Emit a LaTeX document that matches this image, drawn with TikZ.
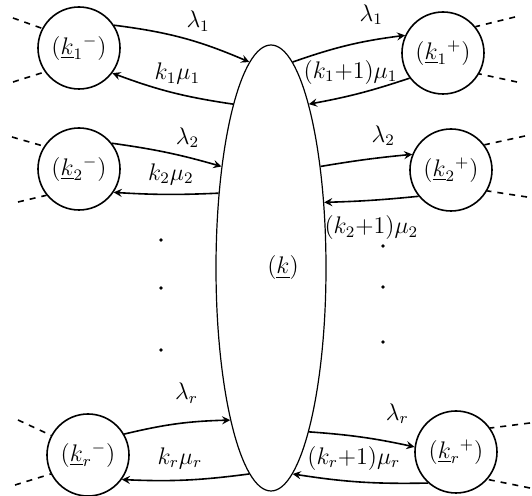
\documentclass[tikz,border=0pt]{standalone}
\usepackage{amsmath}
\usetikzlibrary{shapes.geometric}

\begin{document}
\begin{tikzpicture}[>=stealth, x=0.5pt, y=-0.5pt, font=\large,
    state/.style={draw, thick, circle, minimum size=41pt, inner sep=0pt},
    flow/.style={->, thick},
    stub/.style={dashed, thick}]

    \useasboundingbox (0,0) rectangle (532,496);

    % Центральное состояние
    \node[draw, semithick, ellipse, minimum width=55pt, minimum height=223pt,
          inner sep=0pt] (K) at (271,268) {\hspace{12pt}$(\underline{k})$};

    % Состояния слева
    \node[state] (L1) at (79,48)  {$(\underline{k}_1{}^{-})$};
    \node[state] (L2) at (79,169) {$(\underline{k}_2{}^{-})$};
    \node[state] (L3) at (88,455) {$(\underline{k}_r{}^{-})$};

    % Состояния справа
    \node[state] (R1) at (443,53)  {$(\underline{k}_1{}^{+})$};
    \node[state] (R2) at (451,170) {$(\underline{k}_2{}^{+})$};
    \node[state] (R3) at (456,452) {$(\underline{k}_r{}^{+})$};

    % Переходы слева
    \draw[flow] (L1.33) to[bend left=8] node[pos=.62, above=2pt] {$\lambda_1$} (K.96);
    \draw[flow] (K.103) to[bend left=6] node[pos=.45, above=1pt] {$k_1\mu_1$} (L1.-37);
    \draw[flow] (L2.38) to[bend left=4] node[pos=.7, above=1pt] {$\lambda_2$} (K.116);
    \draw[flow] (K.125) to[bend left=3] node[pos=.45, above=1pt] {$k_2\mu_2$} (L2.-34);
    \draw[flow] (L3.30) to[bend left=6] node[pos=.6, above=6pt] {$\lambda_r$} (K.255);
    \draw[flow] (K.264) to[bend left=5] node[pos=.55, above=2pt] {$k_r\mu_r$} (L3.-36);

    % Переходы справа
    \draw[flow] (K.84) to[bend left=6] node[pos=.72, above=4pt] {$\lambda_1$} (R1.155);
    \draw[flow] (R1.217) to[bend left=4] node[pos=.6, above=2pt] {$(k_1{+}1)\mu_1$} (K.77);
    \draw[flow] (K.64) to[bend left=2] node[pos=.7, above=2pt] {$\lambda_2$} (R2.158);
    \draw[flow] (R2.219) to[bend left=2] node[pos=.5, below=4pt] {$(k_2{+}1)\mu_2$} (K.51);
    \draw[flow] (K.283) to[bend left=4] node[pos=.85, above=6pt] {$\lambda_r$} (R3.173);
    \draw[flow] (R3.228) to[bend left=5] node[pos=.55, above=2pt] {$(k_r{+}1)\mu_r$} (K.276);

    % Многоточия
    \foreach \y in {240,288,350} \fill (161,\y) circle (0.9pt);
    \foreach \y in {246,287,342} \fill (383,\y) circle (0.9pt);

    % Пунктирные выходы
    \coordinate (a1) at (13,18);  \coordinate (a2) at (13,82);
    \coordinate (b1) at (12,137); \coordinate (b2) at (18,202);
    \coordinate (c1) at (18,420); \coordinate (c2) at (15,485);
    \coordinate (d1) at (515,17); \coordinate (d2) at (517,82);
    \coordinate (e1) at (525,136); \coordinate (e2) at (527,197);
    \coordinate (f1) at (530,423); \coordinate (f2) at (530,488);

    \draw[stub] (a1) -- (L1.152);  \draw[stub] (a2) -- (L1.215);
    \draw[stub] (b1) -- (L2.147);  \draw[stub] (b2) -- (L2.219);
    \draw[stub] (c1) -- (L3.152);  \draw[stub] (c2) -- (L3.207);
    \draw[stub] (d1) -- (R1.39);   \draw[stub] (d2) -- (R1.-30);
    \draw[stub] (e1) -- (R2.37);   \draw[stub] (e2) -- (R2.-30);
    \draw[stub] (f1) -- (R3.35);   \draw[stub] (f2) -- (R3.-41);

\end{tikzpicture}
\end{document}
